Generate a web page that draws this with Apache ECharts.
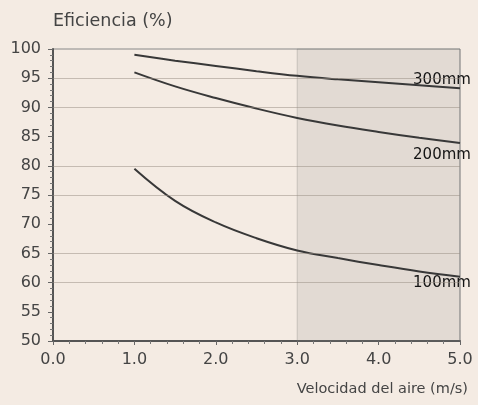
<!DOCTYPE html>
<html><head><meta charset="utf-8">
<script src="https://cdn.jsdelivr.net/npm/echarts@6/dist/echarts.min.js"></script>
<style>html,body{margin:0;padding:0;background:#f4ebe3;}#c{width:478px;height:405px;}</style>
</head><body><div id="c"></div>
<script>
const velocidad = [1.0, 1.5, 2.0, 2.5, 3.0, 3.5, 4.0, 4.5, 5.0];
const ef300 = [99.0, 98.0, 97.1, 96.2, 95.4, 94.8, 94.3, 93.8, 93.3];
const ef200 = [96.0, 93.6, 91.6, 89.8, 88.2, 86.9, 85.8, 84.8, 83.9];
const ef100 = [79.5, 74.0, 70.3, 67.6, 65.5, 64.2, 63.0, 61.9, 61.0];
const seriesNames = ['300mm', '200mm', '100mm'];
const xTicks = ['0.0', '1.0', '2.0', '3.0', '4.0', '5.0'];
const gridValues = [60, 65, 75, 80, 90, 95];
const shadedRange = [3.0, 5.0];

const font = 'DejaVu Sans, sans-serif';
const chart = echarts.init(document.getElementById('c'));
function mk(name, vals, off) {
  return {
    name: name, type: 'line', smooth: 0.4, symbol: 'none',
    data: velocidad.map((v, i) => [v, vals[i]]),
    lineStyle: { color: '#383838', width: 2 },
    endLabel: { show: true, formatter: name, color: '#141414', fontSize: 15, fontFamily: font, align: 'center', verticalAlign: 'middle', offset: off, distance: 0 },
    z: 3
  };
}
const s300 = mk(seriesNames[0], ef300, [-18, -8]);
s300.markArea = {
  silent: true,
  itemStyle: { color: 'rgba(110,110,110,0.13)', borderColor: 'rgba(120,120,120,0.3)', borderWidth: 1 },
  data: [[{ xAxis: shadedRange[0] }, { xAxis: shadedRange[1] }]]
};
s300.markLine = {
  silent: true, symbol: 'none', label: { show: false },
  lineStyle: { color: 'rgba(150,140,130,0.5)', width: 1, type: 'solid' },
  data: gridValues.map(v => ({ yAxis: v }))
};
chart.setOption({
  backgroundColor: '#f4ebe3',
  animation: false,
  grid: { left: 53, right: 18, top: 49, bottom: 64, show: true, borderColor: '#888', borderWidth: 1, backgroundColor: 'transparent' },
  xAxis: {
    type: 'value', min: 0, max: 5, interval: 1,
    name: 'Velocidad del aire (m/s)', nameLocation: 'end', nameGap: 8,
    nameTextStyle: { color: '#444', fontSize: 14.5, fontFamily: font, align: 'right', verticalAlign: 'top', padding: [41, 0, 0, 0] },
    axisLine: { lineStyle: { color: '#555', width: 2 } },
    axisTick: { show: true, length: 4, lineStyle: { color: '#666' } },
    minorTick: { show: true, splitNumber: 5, length: 3, lineStyle: { color: '#777' } },
    splitLine: { show: false },
    axisLabel: { color: '#444', fontSize: 16, fontFamily: font, margin: 11, formatter: v => xTicks[Math.round(v)] }
  },
  yAxis: {
    type: 'value', min: 50, max: 100, interval: 5,
    name: 'Eficiencia (%)', nameLocation: 'end', nameGap: 28,
    nameTextStyle: { color: '#444', fontSize: 17.5, fontFamily: font, align: 'left', verticalAlign: 'middle' },
    axisLine: { show: true, lineStyle: { color: '#555', width: 2 } },
    axisTick: { show: true, length: 5, lineStyle: { color: '#666' } },
    minorTick: { show: true, splitNumber: 5, length: 3, lineStyle: { color: '#777' } },
    splitLine: { show: false },
    axisLabel: { color: '#444', fontSize: 16, fontFamily: font, margin: 12 }
  },
  series: [s300, mk(seriesNames[1], ef200, [-18, 12]), mk(seriesNames[2], ef100, [-18, 6])]
});
</script></body></html>
